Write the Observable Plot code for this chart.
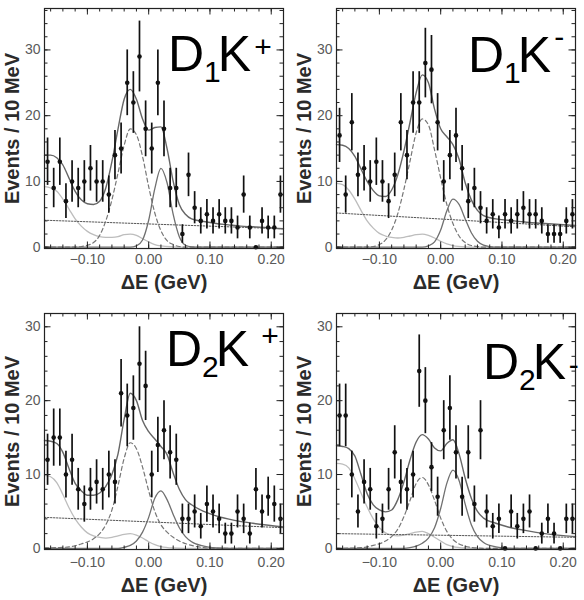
<!DOCTYPE html>
<html><head><meta charset="utf-8">
<script src="https://cdn.jsdelivr.net/npm/d3@7"></script>
<script src="https://cdn.jsdelivr.net/npm/@observablehq/plot@0.6"></script>
<style>
body{margin:0;background:#fff;}
#wrap{position:relative;width:584px;height:600px;background:#fff;font-family:"Liberation Sans",Arial,sans-serif;}
.panel{position:absolute;}
</style></head><body><div id="wrap"></div>
<script>
// ---- data ----
const binCenters = [-0.165,-0.155,-0.145,-0.135,-0.125,-0.115,-0.105,-0.095,-0.085,-0.075,-0.065,-0.055,-0.045,-0.035,-0.025,-0.015,-0.005,0.005,0.015,0.025,0.035,0.045,0.055,0.065,0.075,0.085,0.095,0.105,0.115,0.125,0.135,0.145,0.155,0.165,0.175,0.185,0.195,0.205,0.215];

const d1kPlusCounts  = [13,9,13,7,10,9,10,12,10,10,8,14,15,25,22,29,18,15,25,18,9,9,2,11,6,4,5,4,5,4,4,3,8,3,0,4,3,3,8];
const d1kMinusCounts = [17,8,19,11,12,10,13,10,7,11,19,14,22,22,28,27,19,10,14,17,12,7,9,6,4,5,3,5,4,5,6,5,5,4,2,2,2,4,5];
const d2kPlusCounts  = [12,15,15,10,12,8,6,8,9,8,10,9,21,18,19,25,22,10,14,16,13,12,4,4,5,3,6,5,4,2,2,5,4,2,8,5,7,6,4];
const d2kMinusCounts = [18,18,10,5,9,8,3,4,8,13,9,8,10,24,20,11,7,16,19,13,7,13,6,16,5,3,4,0,5,3,4,5,0,2,4,2,0,4,4];

// fit curves: [deltaE (GeV), events]
const d1kPlusTotal = [[-0.17,14],[-0.16,14],[-0.15,13.6],[-0.14,12.5],[-0.13,10.5],[-0.12,8.5],[-0.11,7.2],[-0.10,6.6],[-0.09,6.5],[-0.08,7.0],[-0.07,9],[-0.06,13],[-0.05,18],[-0.04,22.5],[-0.03,24],[-0.02,22.5],[-0.01,19.5],[0.00,17.8],[0.01,18.2],[0.02,18.3],[0.03,15],[0.04,10],[0.05,6.5],[0.06,5],[0.07,4.3],[0.09,3.9],[0.11,3.6],[0.13,3.4],[0.15,3.2],[0.17,3.1],[0.19,3.0],[0.22,2.8]];
const d1kPlusDashed = [[-0.17,0],[-0.12,0.02],[-0.11,0.1],[-0.10,0.3],[-0.09,0.7],[-0.08,1.8],[-0.07,4.0],[-0.06,7.2],[-0.05,11.3],[-0.04,15.5],[-0.03,18],[-0.02,17.1],[-0.01,13.8],[0.00,9.2],[0.01,5.2],[0.02,2.5],[0.03,1.0],[0.04,0.4],[0.05,0.1],[0.06,0],[0.22,0]];
const d1kPlusSignal = [[-0.17,0],[-0.03,0],[-0.02,0.2],[-0.01,1.1],[0.00,4.1],[0.01,8.9],[0.02,12],[0.03,9.8],[0.04,5.0],[0.05,1.6],[0.06,0.3],[0.07,0.05],[0.08,0],[0.22,0]];
const d1kPlusLight = [[-0.17,9.2],[-0.16,9.0],[-0.15,8.5],[-0.14,7.3],[-0.13,5.8],[-0.12,4.3],[-0.11,3.2],[-0.10,2.4],[-0.09,1.9],[-0.08,1.6],[-0.07,1.5],[-0.06,1.5],[-0.05,1.6],[-0.04,1.9],[-0.03,2.0],[-0.02,1.8],[-0.01,1.3],[0.00,0.8],[0.01,0.4],[0.02,0.2],[0.04,0.05],[0.06,0],[0.22,0]];
const d1kPlusBkg = [[-0.17,4.1],[0.22,2.8]];

const d1kMinusTotal = [[-0.17,15.6],[-0.16,15.5],[-0.15,15.0],[-0.14,13.8],[-0.13,11.9],[-0.12,10.0],[-0.11,8.6],[-0.10,7.8],[-0.09,7.7],[-0.08,8.7],[-0.07,11.0],[-0.06,14.6],[-0.05,19.0],[-0.04,23.5],[-0.03,26.2],[-0.02,25.0],[-0.01,21.0],[0.00,18.0],[0.01,16.8],[0.02,15.6],[0.03,13.4],[0.04,9.8],[0.05,7.2],[0.06,5.6],[0.07,4.8],[0.09,4.3],[0.11,4.1],[0.14,3.8],[0.17,3.6],[0.22,3.3]];
const d1kMinusDashed = [[-0.17,0],[-0.12,0.03],[-0.11,0.1],[-0.10,0.4],[-0.09,1.1],[-0.08,2.6],[-0.07,5.1],[-0.06,8.8],[-0.05,13.1],[-0.04,17.4],[-0.03,19.5],[-0.02,18.6],[-0.01,14.8],[0.00,10.5],[0.01,6.5],[0.02,3.6],[0.03,1.7],[0.04,0.7],[0.05,0.25],[0.06,0.1],[0.07,0],[0.22,0]];
const d1kMinusSignal = [[-0.17,0],[-0.03,0],[-0.02,0.2],[-0.01,0.8],[0.00,2.6],[0.01,5.5],[0.02,7.3],[0.03,6.5],[0.04,4.3],[0.05,2.2],[0.06,0.9],[0.07,0.3],[0.08,0.1],[0.09,0],[0.22,0]];
const d1kMinusLight = [[-0.17,9.7],[-0.16,9.5],[-0.15,8.7],[-0.14,7.3],[-0.13,5.6],[-0.12,4.0],[-0.11,2.9],[-0.10,2.1],[-0.09,1.7],[-0.08,1.5],[-0.07,1.4],[-0.06,1.5],[-0.05,1.7],[-0.04,1.9],[-0.03,2.0],[-0.02,1.8],[-0.01,1.4],[0.00,0.9],[0.01,0.5],[0.02,0.25],[0.04,0.05],[0.06,0],[0.22,0]];
const d1kMinusBkg = [[-0.17,5.2],[0.22,3.1]];

const d2kPlusTotal = [[-0.17,14.6],[-0.16,14.5],[-0.15,14.2],[-0.14,13.0],[-0.13,10.8],[-0.12,8.8],[-0.11,7.8],[-0.10,7.2],[-0.09,7.2],[-0.08,7.5],[-0.07,8.4],[-0.06,10.0],[-0.05,12.8],[-0.04,17.5],[-0.03,21.0],[-0.02,20.0],[-0.01,17.3],[0.00,15.8],[0.01,14.8],[0.02,13.8],[0.03,12.7],[0.04,10.2],[0.05,8.0],[0.06,6.6],[0.07,5.9],[0.09,5.0],[0.11,4.4],[0.14,3.8],[0.17,3.4],[0.22,2.9]];
const d2kPlusDashed = [[-0.17,0.05],[-0.15,0.1],[-0.13,0.2],[-0.11,0.6],[-0.09,1.3],[-0.08,2.0],[-0.07,3.2],[-0.06,5.2],[-0.05,8.5],[-0.04,12.2],[-0.03,14.3],[-0.02,13.5],[-0.01,11.0],[0.00,7.8],[0.01,5.0],[0.02,3.2],[0.03,2.2],[0.04,1.5],[0.05,1.0],[0.07,0.4],[0.09,0.1],[0.11,0],[0.22,0]];
const d2kPlusSignal = [[-0.17,0],[-0.05,0],[-0.04,0.15],[-0.03,0.4],[-0.02,1.0],[-0.01,2.2],[0.00,4.2],[0.01,6.8],[0.02,7.8],[0.03,6.6],[0.04,4.6],[0.05,2.8],[0.06,1.6],[0.07,0.9],[0.09,0.3],[0.11,0.05],[0.13,0],[0.22,0]];
const d2kPlusLight = [[-0.17,9.9],[-0.16,9.7],[-0.15,8.9],[-0.14,7.3],[-0.13,5.5],[-0.12,4.0],[-0.11,2.9],[-0.10,2.1],[-0.09,1.7],[-0.08,1.5],[-0.07,1.4],[-0.06,1.5],[-0.05,1.7],[-0.04,1.9],[-0.03,2.0],[-0.02,1.8],[-0.01,1.4],[0.00,0.9],[0.01,0.5],[0.02,0.25],[0.04,0.05],[0.06,0],[0.22,0]];
const d2kPlusBkg = [[-0.17,4.2],[0.22,2.8]];

const d2kMinusTotal = [[-0.17,13.9],[-0.16,13.8],[-0.15,13.5],[-0.14,12.5],[-0.13,10.0],[-0.12,7.4],[-0.11,5.9],[-0.10,5.2],[-0.09,4.95],[-0.08,5.2],[-0.07,6.6],[-0.06,9.0],[-0.05,12.0],[-0.04,14.4],[-0.03,15.4],[-0.02,14.8],[-0.01,13.6],[0.00,13.2],[0.01,14.2],[0.02,14.7],[0.03,12.8],[0.04,9.5],[0.05,6.8],[0.06,5.0],[0.07,4.1],[0.09,3.4],[0.11,2.9],[0.14,2.4],[0.17,2.0],[0.22,1.6]];
const d2kMinusDashed = [[-0.17,0],[-0.13,0.1],[-0.11,0.4],[-0.09,1.0],[-0.08,1.6],[-0.07,2.6],[-0.06,4.3],[-0.05,6.5],[-0.04,8.8],[-0.03,9.6],[-0.02,8.6],[-0.01,6.5],[0.00,4.1],[0.01,2.3],[0.02,1.2],[0.03,0.6],[0.04,0.3],[0.06,0.05],[0.08,0],[0.22,0]];
const d2kMinusSignal = [[-0.17,0],[-0.06,0],[-0.05,0.1],[-0.04,0.3],[-0.03,0.7],[-0.02,1.4],[-0.01,2.8],[0.00,5.4],[0.01,8.8],[0.02,10.6],[0.03,9.2],[0.04,6.0],[0.05,3.2],[0.06,1.6],[0.07,0.8],[0.09,0.2],[0.11,0],[0.22,0]];
const d2kMinusLight = [[-0.17,11.5],[-0.16,11.4],[-0.15,10.9],[-0.14,9.4],[-0.13,7.5],[-0.12,5.6],[-0.11,4.0],[-0.10,2.8],[-0.09,2.1],[-0.08,1.8],[-0.07,1.7],[-0.06,1.8],[-0.05,2.0],[-0.04,2.2],[-0.03,2.3],[-0.02,2.0],[-0.01,1.5],[0.00,1.0],[0.01,0.5],[0.02,0.25],[0.04,0.05],[0.06,0],[0.22,0]];
const d2kMinusBkg = [[-0.17,2.0],[0.22,1.5]];

// axes / ticks
const xDomain = [-0.17, 0.22];
const xMinorTicks = [-0.16,-0.14,-0.12,-0.10,-0.08,-0.06,-0.04,-0.02,0,0.02,0.04,0.06,0.08,0.10,0.12,0.14,0.16,0.18,0.20];
const xMajorTicks = [-0.10, 0, 0.10, 0.20];
const xTickLabels = ["\u22120.10", "0.00", "0.10", "0.20"];
const yMajorTicks = [0, 10, 20, 30];
const yTickLabels = ["0", "10", "20", "30"];
const yMinorTicksTop = [0,2,4,6,8,10,12,14,16,18,20,22,24,26,28,30,32,34,36];
const yMinorTicksBottom = [0,2,4,6,8,10,12,14,16,18,20,22,24,26,28,30];
const xTitle = "\u0394E (GeV)";
const yTitle = "Events / 10 MeV";

// panel labels
const labelBase = ["D", "D", "D", "D"];
const labelSub = ["1", "1", "2", "2"];
const labelMid = ["K", "K", "K", "K"];
const labelSup = ["+", "-", "+", "-"];

// ---- drawing ----
const FONT = '"Liberation Sans", Arial, Helvetica, sans-serif';
const W = 292, H = 300, ML = 44, MR = 9;

function panel(cfg) {
  const fw = W - ML - MR;
  const fh = H - cfg.mt - cfg.mb;
  const pts = binCenters.map((x, i) => ({x, n: cfg.counts[i]}));
  const line = (data, o) => Plot.line(data, {x: d => d[0], y: d => d[1], curve: "monotone-x", ...o});
  const svg = Plot.plot({
    width: W, height: H, marginLeft: ML, marginRight: MR, marginTop: cfg.mt, marginBottom: cfg.mb,
    x: {domain: xDomain, axis: null},
    y: {domain: cfg.yDomain, axis: null},
    style: {fontFamily: FONT, background: "transparent", overflow: "visible"},
    marks: [
      line(cfg.light, {stroke: "#bdbdbd", strokeWidth: 1.3}),
      line(cfg.bkg, {stroke: "#555", strokeWidth: 1, strokeDasharray: "1.5,1.5"}),
      line(cfg.dashed, {stroke: "#777", strokeWidth: 1.2, strokeDasharray: "4,3"}),
      line(cfg.signal, {stroke: "#707070", strokeWidth: 1.3}),
      line(cfg.total, {stroke: "#666", strokeWidth: 1.4}),
      Plot.ruleX(pts.filter(d => d.n > 0), {x: "x", y1: d => d.n - Math.sqrt(d.n), y2: d => d.n + Math.sqrt(d.n), stroke: "#111", strokeWidth: 1.7}),
      Plot.dot(pts, {x: "x", y: "n", r: 2.3, fill: "#111", stroke: "none"}),
      // inward ticks on all four sides
      Plot.tickX(xMinorTicks, {x: d => d, insetTop: fh - 3.5, stroke: "#222"}),
      Plot.tickX(xMajorTicks, {x: d => d, insetTop: fh - 6.5, stroke: "#222"}),
      Plot.tickX(xMinorTicks, {x: d => d, insetBottom: fh - 3.5, stroke: "#222"}),
      Plot.tickX(xMajorTicks, {x: d => d, insetBottom: fh - 6.5, stroke: "#222"}),
      Plot.tickY(cfg.yMinor, {y: d => d, insetRight: fw - 3.5, stroke: "#222"}),
      Plot.tickY(yMajorTicks, {y: d => d, insetRight: fw - 6.5, stroke: "#222"}),
      Plot.tickY(cfg.yMinor, {y: d => d, insetLeft: fw - 3.5, stroke: "#222"}),
      Plot.tickY(yMajorTicks, {y: d => d, insetLeft: fw - 6.5, stroke: "#222"}),
      Plot.frame({stroke: "#222", strokeWidth: 1.2}),
      // tick labels
      Plot.text(xMajorTicks, {x: d => d, frameAnchor: "bottom", lineAnchor: "middle", dy: cfg.xLabDy, text: (d, i) => xTickLabels[i], fill: "#5a5a5a", fontSize: 14}),
      Plot.text(yMajorTicks, {y: d => d, frameAnchor: "left", dx: -4, textAnchor: "end", text: (d, i) => yTickLabels[i], fill: "#5a5a5a", fontSize: 14}),
      // axis titles
      Plot.text([xTitle], {frameAnchor: "bottom", lineAnchor: "middle", textAnchor: "middle", dy: cfg.xTitleDy, text: d => d, fontWeight: "bold", fontSize: 20, fill: "#2b2b2b"}),
      Plot.text([yTitle], {frameAnchor: "left", textAnchor: "middle", lineAnchor: "middle", dx: -31.5, rotate: -90, text: d => d, fontWeight: "bold", fontSize: 20, fill: "#2b2b2b"})
    ]
  });
  // big panel label D_nK^±
  const i = cfg.idx;
  const t = d3.select(svg).append("text")
    .attr("x", cfg.lx).attr("y", cfg.ly)
    .attr("text-anchor", "start")
    .attr("font-family", FONT).attr("fill", "#000");
  t.append("tspan").attr("font-size", 50).text(labelBase[i]);
  t.append("tspan").attr("font-size", 30).attr("dy", 11).text(labelSub[i]);
  t.append("tspan").attr("font-size", 50).attr("dy", -11).attr("dx", -3).text(labelMid[i]);
  t.append("tspan").attr("font-size", 30).attr("dy", cfg.supDy).attr("dx", cfg.supDx).text(labelSup[i]);

  const div = document.createElement("div");
  div.className = "panel";
  div.style.left = cfg.left + "px";
  div.style.top = cfg.top + "px";
  div.appendChild(svg);
  document.getElementById("wrap").appendChild(div);
}

const topRow = {mt: 8, mb: 52, yDomain: [-0.2, 36.3], yMinor: yMinorTicksTop, xLabDy: 11, xTitleDy: 34.5};
const botRow = {mt: 13, mb: 51, yDomain: [-0.15, 31.8], yMinor: yMinorTicksBottom, xLabDy: 13, xTitleDy: 36};

panel({...topRow, idx: 0, left: 0, top: 0, counts: d1kPlusCounts, total: d1kPlusTotal, dashed: d1kPlusDashed, signal: d1kPlusSignal, light: d1kPlusLight, bkg: d1kPlusBkg, lx: 168, ly: 71, supDy: -14.5, supDx: 3});
panel({...topRow, idx: 1, left: 292, top: 0, counts: d1kMinusCounts, total: d1kMinusTotal, dashed: d1kMinusDashed, signal: d1kMinusSignal, light: d1kMinusLight, bkg: d1kMinusBkg, lx: 176, ly: 72, supDy: -25, supDx: 3});
panel({...botRow, idx: 2, left: 0, top: 300, counts: d2kPlusCounts, total: d2kPlusTotal, dashed: d2kPlusDashed, signal: d2kPlusSignal, light: d2kPlusLight, bkg: d2kPlusBkg, lx: 166, ly: 66, supDy: -20.5, supDx: 12});
panel({...botRow, idx: 3, left: 292, top: 300, counts: d2kMinusCounts, total: d2kMinusTotal, dashed: d2kMinusDashed, signal: d2kMinusSignal, light: d2kMinusLight, bkg: d2kMinusBkg, lx: 191, ly: 79, supDy: -4, supDx: 2.5});
</script>
</body></html>
